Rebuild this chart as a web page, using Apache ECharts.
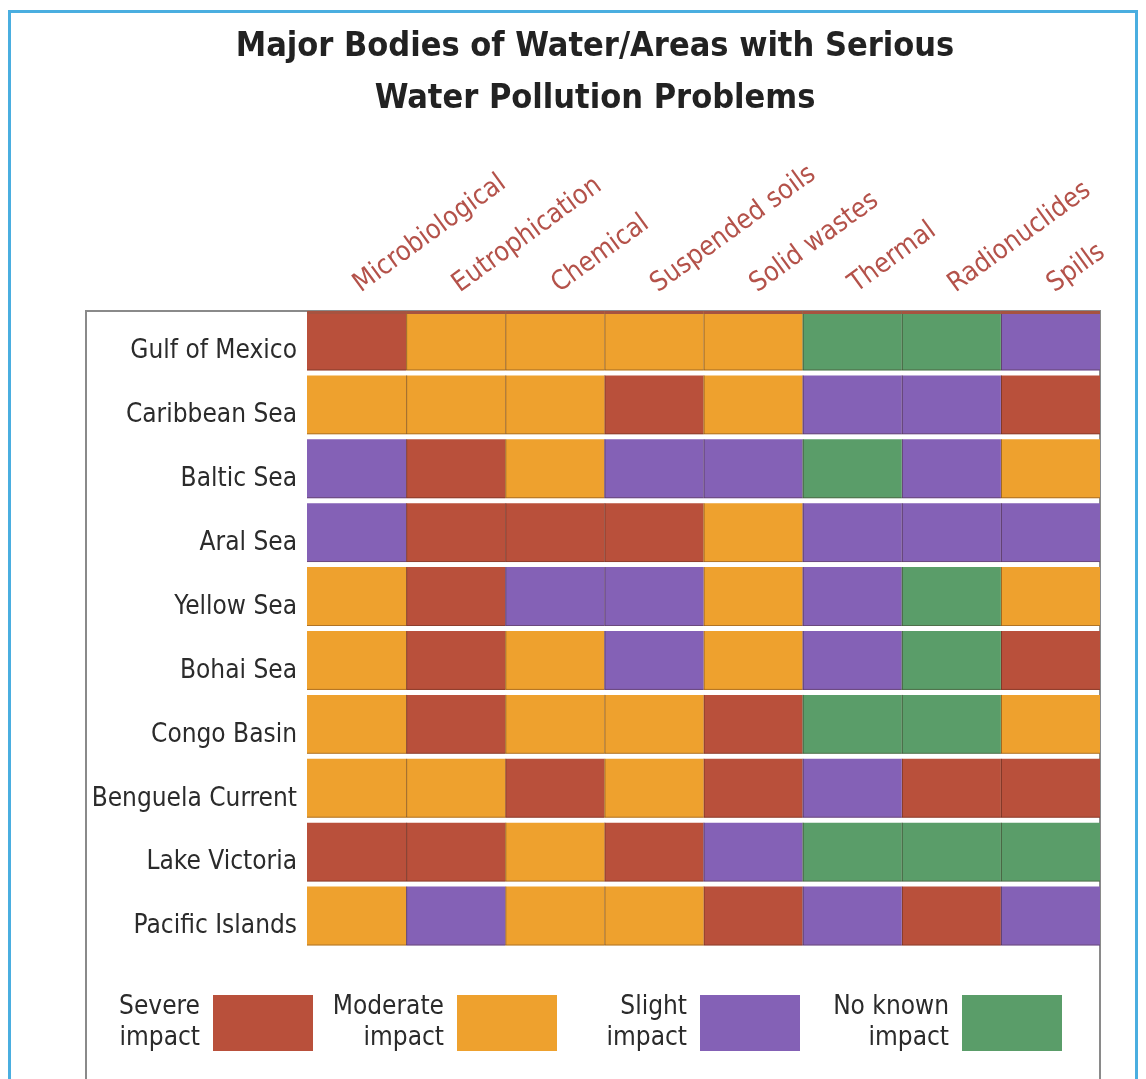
<!DOCTYPE html>
<html>
<head>
<meta charset="utf-8">
<script src="https://cdn.jsdelivr.net/npm/echarts@6/dist/echarts.min.js"></script>
<style>
html,body{margin:0;padding:0;background:#fff;}
#chart{width:1146px;height:1079px;}
</style>
</head>
<body>
<div id="chart"></div>
<script>
// ---- data ----
const titleLines = ['Major Bodies of Water/Areas with Serious', 'Water Pollution Problems'];
const columns = ['Microbiological', 'Eutrophication', 'Chemical', 'Suspended soils', 'Solid wastes', 'Thermal', 'Radionuclides', 'Spills'];
const waterBodies = ['Gulf of Mexico', 'Caribbean Sea', 'Baltic Sea', 'Aral Sea', 'Yellow Sea', 'Bohai Sea', 'Congo Basin', 'Benguela Current', 'Lake Victoria', 'Pacific Islands'];
const impactLevels = ['Severe impact', 'Moderate impact', 'Slight impact', 'No known impact'];
const legendText = ['Severe\nimpact', 'Moderate\nimpact', 'Slight\nimpact', 'No known\nimpact'];
// level index per cell: 0 severe, 1 moderate, 2 slight, 3 no known (rows in waterBodies order, columns in columns order)
const impactGrid = [
  [0, 1, 1, 1, 1, 3, 3, 2],
  [1, 1, 1, 0, 1, 2, 2, 0],
  [2, 0, 1, 2, 2, 3, 2, 1],
  [2, 0, 0, 0, 1, 2, 2, 2],
  [1, 0, 2, 2, 1, 2, 3, 1],
  [1, 0, 1, 2, 1, 2, 3, 0],
  [1, 0, 1, 1, 0, 3, 3, 1],
  [1, 1, 0, 1, 0, 2, 0, 0],
  [0, 0, 1, 0, 2, 3, 3, 3],
  [1, 2, 1, 1, 0, 2, 0, 2]
];

// ---- styles ----
const levelColors = ['#b9503b', '#eea12e', '#8461b6', '#5a9d69'];
const FONT = "'DejaVu Sans Condensed', 'Liberation Sans Narrow', Lato, sans-serif";

const chart = echarts.init(document.getElementById('chart'));

function makeRender(color) {
  return function (params, api) {
    const col = api.value(0), row = api.value(1);
    const c = api.coord([col, row]);
    const s = api.size([1, 1]);
    const x0 = c[0] - s[0] / 2, y0 = c[1] - s[1] / 2;
    const h = s[1] - 5;
    const children = [
      { type: 'rect', shape: { x: x0, y: y0 + 0.5, width: s[0], height: h }, style: { fill: color } },
      { type: 'line', shape: { x1: x0, y1: y0 + h, x2: x0 + s[0], y2: y0 + h }, style: { stroke: 'rgba(60,30,20,0.35)', lineWidth: 1 } }
    ];
    if (col > 0) {
      children.push({ type: 'line', shape: { x1: x0 + 0.5, y1: y0 + 0.5, x2: x0 + 0.5, y2: y0 + h }, style: { stroke: 'rgba(50,25,15,0.45)', lineWidth: 1 } });
    }
    if (row === 0) {
      children.push({ type: 'line', shape: { x1: x0, y1: y0 + 1.5, x2: x0 + s[0], y2: y0 + 1.5 }, style: { stroke: '#a65340', lineWidth: 3 } });
    }
    return { type: 'group', children: children };
  };
}

const series = impactLevels.map(function (name, lvl) {
  const data = [];
  impactGrid.forEach(function (r, ri) {
    r.forEach(function (v, ci) { if (v === lvl) data.push([ci, ri]); });
  });
  return {
    name: name,
    type: 'custom',
    coordinateSystem: 'cartesian2d',
    renderItem: makeRender(levelColors[lvl]),
    itemStyle: { color: levelColors[lvl] },
    data: data,
    silent: true
  };
});

const legendIconRight = [313, 557, 800, 1062];
const legends = impactLevels.map(function (name, i) {
  return {
    data: [name],
    right: 1146 - legendIconRight[i],
    top: 992,
    padding: 0,
    align: 'right',
    icon: 'rect',
    itemWidth: 100,
    itemHeight: 56,
    selectedMode: false,
    formatter: function () { return legendText[i]; },
    textStyle: {
      fontFamily: FONT, fontSize: 26, lineHeight: 31, color: '#2b2b2b',
      align: 'right', padding: [0, 8, 0, 0]
    }
  };
});

const option = {
  backgroundColor: '#ffffff',
  animation: false,
  title: {
    text: titleLines.join('\n'),
    left: 590,
    top: 16,
    textAlign: 'center',
    textStyle: { fontFamily: FONT, fontWeight: 'bold', fontSize: 34, lineHeight: 52, color: '#222222' }
  },
  graphic: [
    { type: 'rect', shape: { x: 9.5, y: 11.5, width: 1127, height: 1100 }, style: { fill: 'none', stroke: '#4aaee0', lineWidth: 3 }, silent: true, z: 100 },
    { type: 'rect', shape: { x: 86, y: 311, width: 1014, height: 800 }, style: { fill: 'none', stroke: '#8a8a8a', lineWidth: 2 }, silent: true, z: -1 }
  ],
  legend: legends,
  grid: { left: 307, right: 46, top: 311, bottom: 129 },
  xAxis: {
    type: 'category',
    position: 'top',
    data: columns,
    axisLine: { show: false },
    axisTick: { show: false },
    splitLine: { show: false },
    axisLabel: {
      interval: 0, rotate: -36, margin: 24,
      fontFamily: FONT, fontSize: 27, color: '#b4524a'
    }
  },
  yAxis: {
    type: 'category',
    inverse: true,
    data: waterBodies,
    axisLine: { show: false },
    axisTick: { show: false },
    splitLine: { show: false },
    axisLabel: {
      interval: 0, margin: 10,
      fontFamily: FONT, fontSize: 26, color: '#2b2b2b',
      verticalAlign: 'top', lineHeight: 17
    }
  },
  series: series
};
chart.setOption(option);
</script>
</body>
</html>
